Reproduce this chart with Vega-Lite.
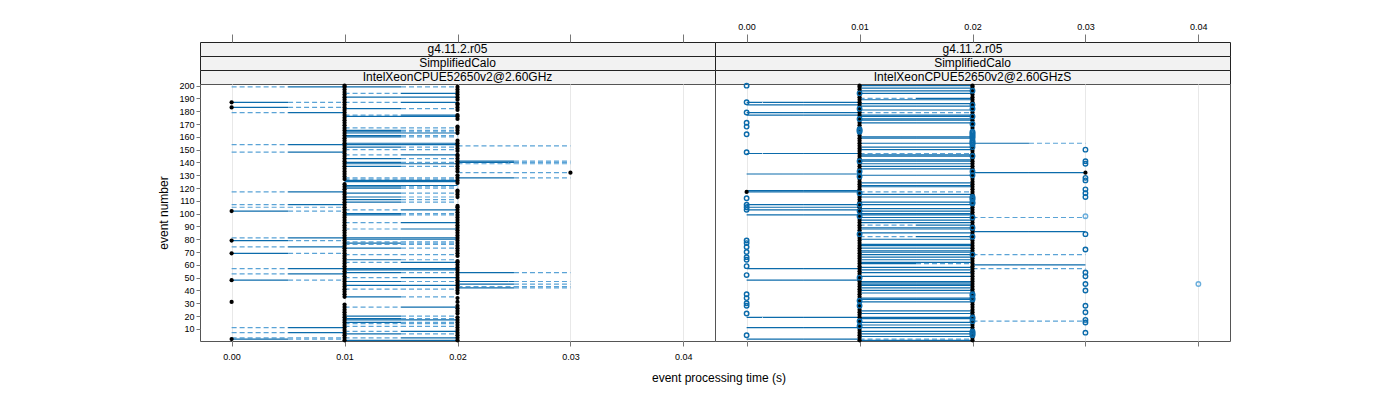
{
"$schema": "https://vega.github.io/schema/vega-lite/v6.json",
"background": "white",
"padding": {"left": 157, "top": 21, "right": 5, "bottom": 5},
"title": {"text": "event processing time (s)", "orient": "bottom", "anchor": "middle", "frame": "bounds", "fontSize": 12, "fontWeight": "normal", "font": "Liberation Sans", "color": "#000", "offset": 11, "dx": 25},
"datasets": {
"segL": [
{"e":199,"a":0,"m":0.005,"b":0.01,"f":"d","g":"s"},{"e":187,"a":0,"m":0.005,"b":0.01,"f":"s","g":"d"},{"e":183,"a":0,"m":0.005,"b":0.01,"f":"s","g":"d"},{"e":179,"a":0,"m":0.005,"b":0.01,"f":"d","g":"s"},{"e":154,"a":0,"m":0.005,"b":0.01,"f":"d","g":"s"},{"e":148,"a":0,"m":0.005,"b":0.01,"f":"d","g":"s"},{"e":117,"a":0,"m":0.005,"b":0.01,"f":"d","g":"s"},{"e":107,"a":0,"m":0.005,"b":0.01,"f":"d","g":"s"},{"e":105,"a":0,"m":0.005,"b":0.01,"f":"d","g":"d"},{"e":102,"a":0,"m":0.005,"b":0.01,"f":"s","g":"d"},{"e":81,"a":0,"m":0.005,"b":0.01,"f":"d","g":"s"},{"e":79,"a":0,"m":0.005,"b":0.01,"f":"s","g":"d"},{"e":74,"a":0,"m":0.005,"b":0.01,"f":"d","g":"s"},{"e":69,"a":0,"m":0.005,"b":0.01,"f":"s","g":"d"},{"e":57,"a":0,"m":0.005,"b":0.01,"f":"d","g":"s"},{"e":53,"a":0,"m":0.005,"b":0.01,"f":"d","g":"s"},{"e":48,"a":0,"m":0.005,"b":0.01,"f":"s","g":"d"},{"e":11,"a":0,"m":0.005,"b":0.01,"f":"d","g":"s"},{"e":7,"a":0,"m":0.005,"b":0.01,"f":"d","g":"s"},{"e":3,"a":0,"m":0.005,"b":0.01,"f":"d","g":"d"},{"e":2,"a":0,"m":0.005,"b":0.01,"f":"s","g":"d"},
{"e":199,"a":0.01,"m":0.015,"b":0.02,"f":"s","g":"d"},{"e":194,"a":0.01,"m":0.015,"b":0.02,"f":"d","g":"s"},{"e":191,"a":0.01,"m":0.015,"b":0.02,"f":"s","g":"s"},{"e":187,"a":0.01,"m":0.015,"b":0.02,"f":"d","g":"s"},{"e":182,"a":0.01,"m":0.015,"b":0.02,"f":"s","g":"d"},{"e":177,"a":0.01,"m":0.015,"b":0.02,"f":"d","g":"s"},{"e":176,"a":0.01,"m":0.015,"b":0.02,"f":"s","g":"s"},{"e":167,"a":0.01,"m":0.015,"b":0.02,"f":"d","g":"d"},{"e":165,"a":0.01,"m":0.015,"b":0.02,"f":"s","g":"d"},{"e":164,"a":0.01,"m":0.015,"b":0.02,"f":"s","g":"d"},{"e":163,"a":0.01,"m":0.015,"b":0.02,"f":"s","g":"s"},{"e":161,"a":0.01,"m":0.015,"b":0.02,"f":"s","g":"d"},{"e":160,"a":0.01,"m":0.015,"b":0.02,"f":"s","g":"d"},{"e":155,"a":0.01,"m":0.015,"b":0.02,"f":"s","g":"s"},{"e":154,"a":0.01,"m":0.015,"b":0.02,"f":"s","g":"s"},{"e":152,"a":0.01,"m":0.015,"b":0.02,"f":"s","g":"d"},{"e":150,"a":0.01,"m":0.015,"b":0.02,"f":"d","g":"d"},{"e":146,"a":0.01,"m":0.015,"b":0.02,"f":"d","g":"s"},{"e":143,"a":0.01,"m":0.015,"b":0.02,"f":"s","g":"d"},{"e":140,"a":0.01,"m":0.015,"b":0.02,"f":"s","g":"d"},{"e":139,"a":0.01,"m":0.015,"b":0.02,"f":"s","g":"s"},{"e":137,"a":0.01,"m":0.015,"b":0.02,"f":"s","g":"d"},{"e":128,"a":0.01,"m":0.015,"b":0.02,"f":"d","g":"d"},{"e":127,"a":0.01,"m":0.015,"b":0.02,"f":"d","g":"d"},{"e":126,"a":0.01,"m":0.015,"b":0.02,"f":"s","g":"s"},{"e":125,"a":0.01,"m":0.015,"b":0.02,"f":"s","g":"s"},{"e":122,"a":0.01,"m":0.015,"b":0.02,"f":"s","g":"s"},{"e":121,"a":0.01,"m":0.015,"b":0.02,"f":"s","g":"d"},{"e":120,"a":0.01,"m":0.015,"b":0.02,"f":"s","g":"d"},{"e":116,"a":0.01,"m":0.015,"b":0.02,"f":"s","g":"d"},{"e":113,"a":0.01,"m":0.015,"b":0.02,"f":"s","g":"d"},{"e":111,"a":0.01,"m":0.015,"b":0.02,"f":"s","g":"d"},{"e":109,"a":0.01,"m":0.015,"b":0.02,"f":"s","g":"d"},{"e":103,"a":0.01,"m":0.015,"b":0.02,"f":"d","g":"s"},{"e":100,"a":0.01,"m":0.015,"b":0.02,"f":"s","g":"d"},{"e":99,"a":0.01,"m":0.015,"b":0.02,"f":"s","g":"d"},{"e":93,"a":0.01,"m":0.015,"b":0.02,"f":"d","g":"s"},{"e":88,"a":0.01,"m":0.015,"b":0.02,"f":"d","g":"s"},{"e":81,"a":0.01,"m":0.015,"b":0.02,"f":"s","g":"s"},{"e":80,"a":0.01,"m":0.015,"b":0.02,"f":"s","g":"s"},{"e":78,"a":0.01,"m":0.015,"b":0.02,"f":"d","g":"d"},{"e":77,"a":0.01,"m":0.015,"b":0.02,"f":"s","g":"d"},{"e":76,"a":0.01,"m":0.015,"b":0.02,"f":"d","g":"d"},{"e":73,"a":0.01,"m":0.015,"b":0.02,"f":"s","g":"d"},{"e":68,"a":0.01,"m":0.015,"b":0.02,"f":"d","g":"d"},{"e":64,"a":0.01,"m":0.015,"b":0.02,"f":"s","g":"d"},{"e":62,"a":0.01,"m":0.015,"b":0.02,"f":"d","g":"s"},{"e":57,"a":0.01,"m":0.015,"b":0.02,"f":"s","g":"s"},{"e":56,"a":0.01,"m":0.015,"b":0.02,"f":"s","g":"s"},{"e":54,"a":0.01,"m":0.015,"b":0.02,"f":"s","g":"d"},{"e":50,"a":0.01,"m":0.015,"b":0.02,"f":"d","g":"s"},{"e":47,"a":0.01,"m":0.015,"b":0.02,"f":"s","g":"d"},{"e":44,"a":0.01,"m":0.015,"b":0.02,"f":"s","g":"s"},{"e":41,"a":0.01,"m":0.015,"b":0.02,"f":"d","g":"d"},{"e":35,"a":0.01,"m":0.015,"b":0.02,"f":"s","g":"d"},{"e":27,"a":0.01,"m":0.015,"b":0.02,"f":"d","g":"s"},{"e":20,"a":0.01,"m":0.015,"b":0.02,"f":"s","g":"d"},{"e":18,"a":0.01,"m":0.015,"b":0.02,"f":"s","g":"d"},{"e":17,"a":0.01,"m":0.015,"b":0.02,"f":"s","g":"s"},{"e":15,"a":0.01,"m":0.015,"b":0.02,"f":"s","g":"d"},{"e":14,"a":0.01,"m":0.015,"b":0.02,"f":"d","g":"d"},{"e":12,"a":0.01,"m":0.015,"b":0.02,"f":"d","g":"d"},{"e":8,"a":0.01,"m":0.015,"b":0.02,"f":"d","g":"s"},{"e":6,"a":0.01,"m":0.015,"b":0.02,"f":"s","g":"d"},{"e":3,"a":0.01,"m":0.015,"b":0.02,"f":"d","g":"s"},{"e":1,"a":0.01,"m":0.015,"b":0.02,"f":"s","g":"s"},
{"e":153,"a":0.02,"m":0.025,"b":0.03,"f":"d","g":"d"},{"e":141,"a":0.02,"m":0.025,"b":0.03,"f":"s","g":"d"},{"e":140,"a":0.02,"m":0.025,"b":0.03,"f":"s","g":"d"},{"e":139,"a":0.02,"m":0.025,"b":0.03,"f":"d","g":"d"},{"e":132,"a":0.02,"m":0.025,"b":0.03,"f":"d","g":"d"},{"e":128,"a":0.02,"m":0.025,"b":0.03,"f":"s","g":"d"},{"e":54,"a":0.02,"m":0.025,"b":0.03,"f":"s","g":"d"},{"e":47,"a":0.02,"m":0.025,"b":0.03,"f":"s","g":"d"},{"e":45,"a":0.02,"m":0.025,"b":0.03,"f":"s","g":"d"},{"e":43,"a":0.02,"m":0.025,"b":0.03,"f":"d","g":"d"},{"e":42,"a":0.02,"m":0.025,"b":0.03,"f":"s","g":"d"}
],
"segR": [
{"e":187,"a":0,"m":0.005,"b":0.01,"f":"s","g":"s"},{"e":185,"a":0,"m":0.005,"b":0.01,"f":"s","g":"s"},{"e":179,"a":0,"m":0.005,"b":0.01,"f":"s","g":"s"},{"e":177,"a":0,"m":0.005,"b":0.01,"f":"s","g":"s"},{"e":147,"a":0,"m":0.005,"b":0.01,"f":"s","g":"s"},{"e":131,"a":0,"m":0.005,"b":0.01,"f":"s","g":"s"},{"e":118,"a":0,"m":0.005,"b":0.01,"f":"s","g":"s"},{"e":117,"a":0,"m":0.005,"b":0.01,"f":"s","g":"s"},{"e":107,"a":0,"m":0.005,"b":0.01,"f":"s","g":"s"},{"e":105,"a":0,"m":0.005,"b":0.01,"f":"s","g":"s"},{"e":103,"a":0,"m":0.005,"b":0.01,"f":"s","g":"s"},{"e":99,"a":0,"m":0.005,"b":0.01,"f":"s","g":"s"},{"e":57,"a":0,"m":0.005,"b":0.01,"f":"s","g":"s"},{"e":48,"a":0,"m":0.005,"b":0.01,"f":"s","g":"s"},{"e":19,"a":0,"m":0.005,"b":0.01,"f":"s","g":"s"},{"e":11,"a":0,"m":0.005,"b":0.01,"f":"s","g":"s"},{"e":2,"a":0,"m":0.005,"b":0.01,"f":"s","g":"s"},
{"e":200,"a":0.01,"m":0.015,"b":0.02,"f":"s","g":"s"},{"e":198,"a":0.01,"m":0.015,"b":0.02,"f":"s","g":"s"},{"e":196,"a":0.01,"m":0.015,"b":0.02,"f":"s","g":"s"},{"e":194,"a":0.01,"m":0.015,"b":0.02,"f":"s","g":"s"},{"e":190,"a":0.01,"m":0.015,"b":0.02,"f":"d","g":"s"},{"e":189,"a":0.01,"m":0.015,"b":0.02,"f":"s","g":"s"},{"e":186,"a":0.01,"m":0.015,"b":0.02,"f":"s","g":"s"},{"e":184,"a":0.01,"m":0.015,"b":0.02,"f":"s","g":"s"},{"e":181,"a":0.01,"m":0.015,"b":0.02,"f":"s","g":"s"},{"e":179,"a":0.01,"m":0.015,"b":0.02,"f":"d","g":"d"},{"e":177,"a":0.01,"m":0.015,"b":0.02,"f":"s","g":"s"},{"e":176,"a":0.01,"m":0.015,"b":0.02,"f":"s","g":"s"},{"e":174,"a":0.01,"m":0.015,"b":0.02,"f":"s","g":"s"},{"e":173,"a":0.01,"m":0.015,"b":0.02,"f":"s","g":"s"},{"e":171,"a":0.01,"m":0.015,"b":0.02,"f":"s","g":"s"},{"e":160,"a":0.01,"m":0.015,"b":0.02,"f":"s","g":"s"},{"e":159,"a":0.01,"m":0.015,"b":0.02,"f":"s","g":"s"},{"e":155,"a":0.01,"m":0.015,"b":0.02,"f":"s","g":"s"},{"e":152,"a":0.01,"m":0.015,"b":0.02,"f":"s","g":"s"},{"e":150,"a":0.01,"m":0.015,"b":0.02,"f":"s","g":"s"},{"e":147,"a":0.01,"m":0.015,"b":0.02,"f":"d","g":"d"},{"e":146,"a":0.01,"m":0.015,"b":0.02,"f":"s","g":"s"},{"e":145,"a":0.01,"m":0.015,"b":0.02,"f":"s","g":"s"},{"e":142,"a":0.01,"m":0.015,"b":0.02,"f":"s","g":"s"},{"e":141,"a":0.01,"m":0.015,"b":0.02,"f":"s","g":"s"},{"e":139,"a":0.01,"m":0.015,"b":0.02,"f":"s","g":"s"},{"e":137,"a":0.01,"m":0.015,"b":0.02,"f":"s","g":"s"},{"e":135,"a":0.01,"m":0.015,"b":0.02,"f":"s","g":"s"},{"e":130,"a":0.01,"m":0.015,"b":0.02,"f":"s","g":"s"},{"e":124,"a":0.01,"m":0.015,"b":0.02,"f":"s","g":"s"},{"e":122,"a":0.01,"m":0.015,"b":0.02,"f":"s","g":"s"},{"e":121,"a":0.01,"m":0.015,"b":0.02,"f":"s","g":"s"},{"e":117,"a":0.01,"m":0.015,"b":0.02,"f":"d","g":"d"},{"e":115,"a":0.01,"m":0.015,"b":0.02,"f":"s","g":"s"},{"e":113,"a":0.01,"m":0.015,"b":0.02,"f":"s","g":"s"},{"e":109,"a":0.01,"m":0.015,"b":0.02,"f":"s","g":"s"},{"e":107,"a":0.01,"m":0.015,"b":0.02,"f":"s","g":"s"},{"e":104,"a":0.01,"m":0.015,"b":0.02,"f":"s","g":"s"},{"e":102,"a":0.01,"m":0.015,"b":0.02,"f":"s","g":"s"},{"e":100,"a":0.01,"m":0.015,"b":0.02,"f":"s","g":"s"},{"e":99,"a":0.01,"m":0.015,"b":0.02,"f":"s","g":"s"},{"e":97,"a":0.01,"m":0.015,"b":0.02,"f":"s","g":"s"},{"e":95,"a":0.01,"m":0.015,"b":0.02,"f":"s","g":"s"},{"e":93,"a":0.01,"m":0.015,"b":0.02,"f":"s","g":"s"},{"e":91,"a":0.01,"m":0.015,"b":0.02,"f":"d","g":"s"},{"e":89,"a":0.01,"m":0.015,"b":0.02,"f":"s","g":"s"},{"e":88,"a":0.01,"m":0.015,"b":0.02,"f":"s","g":"s"},{"e":85,"a":0.01,"m":0.015,"b":0.02,"f":"s","g":"s"},{"e":82,"a":0.01,"m":0.015,"b":0.02,"f":"d","g":"s"},{"e":80,"a":0.01,"m":0.015,"b":0.02,"f":"s","g":"s"},{"e":76,"a":0.01,"m":0.015,"b":0.02,"f":"s","g":"s"},{"e":75,"a":0.01,"m":0.015,"b":0.02,"f":"s","g":"s"},{"e":73,"a":0.01,"m":0.015,"b":0.02,"f":"s","g":"s"},{"e":71,"a":0.01,"m":0.015,"b":0.02,"f":"s","g":"s"},{"e":70,"a":0.01,"m":0.015,"b":0.02,"f":"s","g":"s"},{"e":68,"a":0.01,"m":0.015,"b":0.02,"f":"s","g":"s"},{"e":66,"a":0.01,"m":0.015,"b":0.02,"f":"s","g":"s"},{"e":64,"a":0.01,"m":0.015,"b":0.02,"f":"s","g":"s"},{"e":62,"a":0.01,"m":0.015,"b":0.02,"f":"s","g":"s"},{"e":61,"a":0.01,"m":0.015,"b":0.02,"f":"s","g":"d"},{"e":58,"a":0.01,"m":0.015,"b":0.02,"f":"s","g":"s"},{"e":56,"a":0.01,"m":0.015,"b":0.02,"f":"s","g":"s"},{"e":54,"a":0.01,"m":0.015,"b":0.02,"f":"s","g":"s"},{"e":51,"a":0.01,"m":0.015,"b":0.02,"f":"s","g":"s"},{"e":47,"a":0.01,"m":0.015,"b":0.02,"f":"s","g":"s"},{"e":46,"a":0.01,"m":0.015,"b":0.02,"f":"s","g":"s"},{"e":45,"a":0.01,"m":0.015,"b":0.02,"f":"s","g":"s"},{"e":44,"a":0.01,"m":0.015,"b":0.02,"f":"s","g":"s"},{"e":42,"a":0.01,"m":0.015,"b":0.02,"f":"s","g":"s"},{"e":40,"a":0.01,"m":0.015,"b":0.02,"f":"s","g":"s"},{"e":38,"a":0.01,"m":0.015,"b":0.02,"f":"s","g":"s"},{"e":34,"a":0.01,"m":0.015,"b":0.02,"f":"s","g":"s"},{"e":33,"a":0.01,"m":0.015,"b":0.02,"f":"s","g":"s"},{"e":31,"a":0.01,"m":0.015,"b":0.02,"f":"s","g":"s"},{"e":24,"a":0.01,"m":0.015,"b":0.02,"f":"s","g":"s"},{"e":22,"a":0.01,"m":0.015,"b":0.02,"f":"s","g":"s"},{"e":19,"a":0.01,"m":0.015,"b":0.02,"f":"s","g":"s"},{"e":18,"a":0.01,"m":0.015,"b":0.02,"f":"s","g":"s"},{"e":15,"a":0.01,"m":0.015,"b":0.02,"f":"s","g":"s"},{"e":13,"a":0.01,"m":0.015,"b":0.02,"f":"s","g":"s"},{"e":11,"a":0.01,"m":0.015,"b":0.02,"f":"s","g":"s"},{"e":8,"a":0.01,"m":0.015,"b":0.02,"f":"s","g":"s"},{"e":6,"a":0.01,"m":0.015,"b":0.02,"f":"s","g":"s"},{"e":4,"a":0.01,"m":0.015,"b":0.02,"f":"s","g":"s"},{"e":2,"a":0.01,"m":0.015,"b":0.02,"f":"d","g":"d"},{"e":1,"a":0.01,"m":0.015,"b":0.02,"f":"s","g":"s"},
{"e":155,"a":0.02,"m":0.025,"b":0.03,"f":"s","g":"d"},{"e":132,"a":0.02,"m":0.025,"b":0.03,"f":"s","g":"s"},{"e":97,"a":0.02,"m":0.025,"b":0.03,"f":"d","g":"d"},{"e":86,"a":0.02,"m":0.025,"b":0.03,"f":"s","g":"s"},{"e":68,"a":0.02,"m":0.025,"b":0.03,"f":"d","g":"d"},{"e":60,"a":0.02,"m":0.025,"b":0.03,"f":"s","g":"s"},{"e":57,"a":0.02,"m":0.025,"b":0.03,"f":"d","g":"d"},{"e":16,"a":0.02,"m":0.025,"b":0.03,"f":"d","g":"d"}
],
"ptL": [
{"e":1,"t":0.01},{"e":3,"t":0.01},{"e":5,"t":0.01},{"e":7,"t":0.01},{"e":9,"t":0.01},{"e":11,"t":0.01},{"e":13,"t":0.01},{"e":15,"t":0.01},{"e":17,"t":0.01},{"e":19,"t":0.01},{"e":21,"t":0.01},{"e":23,"t":0.01},{"e":25,"t":0.01},{"e":27,"t":0.01},{"e":29,"t":0.01},{"e":35,"t":0.01},{"e":37,"t":0.01},{"e":39,"t":0.01},{"e":41,"t":0.01},{"e":43,"t":0.01},{"e":45,"t":0.01},{"e":47,"t":0.01},{"e":49,"t":0.01},{"e":51,"t":0.01},{"e":53,"t":0.01},{"e":55,"t":0.01},{"e":57,"t":0.01},{"e":59,"t":0.01},{"e":61,"t":0.01},{"e":63,"t":0.01},{"e":65,"t":0.01},{"e":67,"t":0.01},{"e":69,"t":0.01},{"e":71,"t":0.01},{"e":73,"t":0.01},{"e":75,"t":0.01},{"e":77,"t":0.01},{"e":79,"t":0.01},{"e":81,"t":0.01},{"e":83,"t":0.01},{"e":85,"t":0.01},{"e":87,"t":0.01},{"e":89,"t":0.01},{"e":91,"t":0.01},{"e":93,"t":0.01},{"e":95,"t":0.01},{"e":97,"t":0.01},{"e":99,"t":0.01},{"e":101,"t":0.01},{"e":103,"t":0.01},{"e":105,"t":0.01},{"e":107,"t":0.01},{"e":109,"t":0.01},{"e":111,"t":0.01},{"e":113,"t":0.01},{"e":115,"t":0.01},{"e":117,"t":0.01},{"e":119,"t":0.01},{"e":121,"t":0.01},{"e":123,"t":0.01},{"e":127,"t":0.01},{"e":129,"t":0.01},{"e":131,"t":0.01},{"e":133,"t":0.01},{"e":135,"t":0.01},{"e":137,"t":0.01},{"e":139,"t":0.01},{"e":141,"t":0.01},{"e":143,"t":0.01},{"e":145,"t":0.01},{"e":147,"t":0.01},{"e":149,"t":0.01},{"e":151,"t":0.01},{"e":153,"t":0.01},{"e":155,"t":0.01},{"e":157,"t":0.01},{"e":159,"t":0.01},{"e":161,"t":0.01},{"e":163,"t":0.01},{"e":165,"t":0.01},{"e":167,"t":0.01},{"e":169,"t":0.01},{"e":171,"t":0.01},{"e":173,"t":0.01},{"e":175,"t":0.01},{"e":177,"t":0.01},{"e":179,"t":0.01},{"e":181,"t":0.01},{"e":183,"t":0.01},{"e":185,"t":0.01},{"e":187,"t":0.01},{"e":189,"t":0.01},{"e":191,"t":0.01},{"e":193,"t":0.01},{"e":195,"t":0.01},{"e":197,"t":0.01},{"e":199,"t":0.01},{"e":200,"t":0.01},
{"e":1,"t":0.02},{"e":3,"t":0.02},{"e":5,"t":0.02},{"e":7,"t":0.02},{"e":9,"t":0.02},{"e":11,"t":0.02},{"e":13,"t":0.02},{"e":15,"t":0.02},{"e":17,"t":0.02},{"e":19,"t":0.02},{"e":22,"t":0.02},{"e":24,"t":0.02},{"e":26,"t":0.02},{"e":28,"t":0.02},{"e":31,"t":0.02},{"e":34,"t":0.02},{"e":38,"t":0.02},{"e":40,"t":0.02},{"e":42,"t":0.02},{"e":44,"t":0.02},{"e":46,"t":0.02},{"e":48,"t":0.02},{"e":50,"t":0.02},{"e":52,"t":0.02},{"e":54,"t":0.02},{"e":56,"t":0.02},{"e":58,"t":0.02},{"e":60,"t":0.02},{"e":62,"t":0.02},{"e":63,"t":0.02},{"e":67,"t":0.02},{"e":69,"t":0.02},{"e":71,"t":0.02},{"e":73,"t":0.02},{"e":75,"t":0.02},{"e":77,"t":0.02},{"e":79,"t":0.02},{"e":81,"t":0.02},{"e":83,"t":0.02},{"e":85,"t":0.02},{"e":87,"t":0.02},{"e":89,"t":0.02},{"e":91,"t":0.02},{"e":93,"t":0.02},{"e":95,"t":0.02},{"e":97,"t":0.02},{"e":99,"t":0.02},{"e":101,"t":0.02},{"e":103,"t":0.02},{"e":105,"t":0.02},{"e":106,"t":0.02},{"e":113,"t":0.02},{"e":115,"t":0.02},{"e":117,"t":0.02},{"e":118,"t":0.02},{"e":124,"t":0.02},{"e":126,"t":0.02},{"e":128,"t":0.02},{"e":130,"t":0.02},{"e":133,"t":0.02},{"e":135,"t":0.02},{"e":137,"t":0.02},{"e":139,"t":0.02},{"e":141,"t":0.02},{"e":143,"t":0.02},{"e":145,"t":0.02},{"e":146,"t":0.02},{"e":149,"t":0.02},{"e":151,"t":0.02},{"e":153,"t":0.02},{"e":155,"t":0.02},{"e":157,"t":0.02},{"e":163,"t":0.02},{"e":165,"t":0.02},{"e":167,"t":0.02},{"e":168,"t":0.02},{"e":174,"t":0.02},{"e":176,"t":0.02},{"e":177,"t":0.02},{"e":181,"t":0.02},{"e":183,"t":0.02},{"e":185,"t":0.02},{"e":186,"t":0.02},{"e":189,"t":0.02},{"e":191,"t":0.02},{"e":193,"t":0.02},{"e":195,"t":0.02},{"e":197,"t":0.02},{"e":199,"t":0.02},
{"e":187,"t":0},{"e":183,"t":0},{"e":102,"t":0},{"e":79,"t":0},{"e":69,"t":0},{"e":48,"t":0},{"e":31,"t":0},{"e":2,"t":0},{"e":132,"t":0.03}
],
"ptRk": [
{"e":1,"t":0.01},{"e":3,"t":0.01},{"e":5,"t":0.01},{"e":7,"t":0.01},{"e":9,"t":0.01},{"e":11,"t":0.01},{"e":13,"t":0.01},{"e":15,"t":0.01},{"e":17,"t":0.01},{"e":19,"t":0.01},{"e":21,"t":0.01},{"e":23,"t":0.01},{"e":25,"t":0.01},{"e":27,"t":0.01},{"e":29,"t":0.01},{"e":31,"t":0.01},{"e":33,"t":0.01},{"e":35,"t":0.01},{"e":37,"t":0.01},{"e":39,"t":0.01},{"e":41,"t":0.01},{"e":43,"t":0.01},{"e":45,"t":0.01},{"e":47,"t":0.01},{"e":49,"t":0.01},{"e":51,"t":0.01},{"e":53,"t":0.01},{"e":55,"t":0.01},{"e":57,"t":0.01},{"e":59,"t":0.01},{"e":61,"t":0.01},{"e":63,"t":0.01},{"e":65,"t":0.01},{"e":67,"t":0.01},{"e":69,"t":0.01},{"e":71,"t":0.01},{"e":73,"t":0.01},{"e":75,"t":0.01},{"e":77,"t":0.01},{"e":79,"t":0.01},{"e":81,"t":0.01},{"e":83,"t":0.01},{"e":85,"t":0.01},{"e":87,"t":0.01},{"e":89,"t":0.01},{"e":91,"t":0.01},{"e":93,"t":0.01},{"e":95,"t":0.01},{"e":97,"t":0.01},{"e":99,"t":0.01},{"e":101,"t":0.01},{"e":103,"t":0.01},{"e":105,"t":0.01},{"e":107,"t":0.01},{"e":109,"t":0.01},{"e":111,"t":0.01},{"e":113,"t":0.01},{"e":115,"t":0.01},{"e":117,"t":0.01},{"e":119,"t":0.01},{"e":121,"t":0.01},{"e":123,"t":0.01},{"e":125,"t":0.01},{"e":127,"t":0.01},{"e":129,"t":0.01},{"e":131,"t":0.01},{"e":133,"t":0.01},{"e":135,"t":0.01},{"e":137,"t":0.01},{"e":139,"t":0.01},{"e":141,"t":0.01},{"e":143,"t":0.01},{"e":145,"t":0.01},{"e":147,"t":0.01},{"e":149,"t":0.01},{"e":151,"t":0.01},{"e":153,"t":0.01},{"e":155,"t":0.01},{"e":157,"t":0.01},{"e":159,"t":0.01},{"e":161,"t":0.01},{"e":163,"t":0.01},{"e":165,"t":0.01},{"e":167,"t":0.01},{"e":169,"t":0.01},{"e":171,"t":0.01},{"e":173,"t":0.01},{"e":175,"t":0.01},{"e":177,"t":0.01},{"e":179,"t":0.01},{"e":181,"t":0.01},{"e":183,"t":0.01},{"e":185,"t":0.01},{"e":187,"t":0.01},{"e":189,"t":0.01},{"e":191,"t":0.01},{"e":193,"t":0.01},{"e":195,"t":0.01},{"e":197,"t":0.01},{"e":199,"t":0.01},{"e":200,"t":0.01},
{"e":1,"t":0.02},{"e":3,"t":0.02},{"e":5,"t":0.02},{"e":7,"t":0.02},{"e":9,"t":0.02},{"e":11,"t":0.02},{"e":13,"t":0.02},{"e":15,"t":0.02},{"e":17,"t":0.02},{"e":19,"t":0.02},{"e":21,"t":0.02},{"e":23,"t":0.02},{"e":25,"t":0.02},{"e":27,"t":0.02},{"e":29,"t":0.02},{"e":31,"t":0.02},{"e":33,"t":0.02},{"e":35,"t":0.02},{"e":37,"t":0.02},{"e":39,"t":0.02},{"e":41,"t":0.02},{"e":43,"t":0.02},{"e":45,"t":0.02},{"e":47,"t":0.02},{"e":49,"t":0.02},{"e":51,"t":0.02},{"e":53,"t":0.02},{"e":55,"t":0.02},{"e":57,"t":0.02},{"e":59,"t":0.02},{"e":61,"t":0.02},{"e":63,"t":0.02},{"e":65,"t":0.02},{"e":67,"t":0.02},{"e":69,"t":0.02},{"e":71,"t":0.02},{"e":73,"t":0.02},{"e":75,"t":0.02},{"e":77,"t":0.02},{"e":79,"t":0.02},{"e":81,"t":0.02},{"e":83,"t":0.02},{"e":85,"t":0.02},{"e":87,"t":0.02},{"e":89,"t":0.02},{"e":91,"t":0.02},{"e":93,"t":0.02},{"e":95,"t":0.02},{"e":97,"t":0.02},{"e":99,"t":0.02},{"e":101,"t":0.02},{"e":103,"t":0.02},{"e":105,"t":0.02},{"e":107,"t":0.02},{"e":109,"t":0.02},{"e":111,"t":0.02},{"e":113,"t":0.02},{"e":115,"t":0.02},{"e":117,"t":0.02},{"e":119,"t":0.02},{"e":121,"t":0.02},{"e":123,"t":0.02},{"e":125,"t":0.02},{"e":127,"t":0.02},{"e":129,"t":0.02},{"e":131,"t":0.02},{"e":133,"t":0.02},{"e":135,"t":0.02},{"e":137,"t":0.02},{"e":139,"t":0.02},{"e":141,"t":0.02},{"e":143,"t":0.02},{"e":145,"t":0.02},{"e":147,"t":0.02},{"e":149,"t":0.02},{"e":151,"t":0.02},{"e":167,"t":0.02},{"e":169,"t":0.02},{"e":171,"t":0.02},{"e":173,"t":0.02},{"e":175,"t":0.02},{"e":177,"t":0.02},{"e":179,"t":0.02},{"e":181,"t":0.02},{"e":183,"t":0.02},{"e":185,"t":0.02},{"e":187,"t":0.02},{"e":189,"t":0.02},{"e":191,"t":0.02},{"e":193,"t":0.02},{"e":195,"t":0.02},{"e":197,"t":0.02},{"e":199,"t":0.02},{"e":200,"t":0.02},
{"e":117,"t":0},{"e":132,"t":0.03}
],
"ptRb": [
{"e":200,"t":0},{"e":187,"t":0},{"e":179,"t":0},{"e":171,"t":0},{"e":168,"t":0},{"e":162,"t":0},{"e":148,"t":0},{"e":112,"t":0},{"e":107,"t":0},{"e":105,"t":0},{"e":103,"t":0},{"e":79,"t":0},{"e":77,"t":0},{"e":74,"t":0},{"e":70,"t":0},{"e":66,"t":0},{"e":64,"t":0},{"e":59,"t":0},{"e":52,"t":0},{"e":37,"t":0},{"e":34,"t":0},{"e":30,"t":0},{"e":28,"t":0},{"e":22,"t":0},{"e":5,"t":0},
{"e":194,"t":0.01},{"e":182,"t":0.01},{"e":174,"t":0.01},{"e":166,"t":0.01},{"e":165,"t":0.01},{"e":164,"t":0.01},{"e":141,"t":0.01},{"e":133,"t":0.01},{"e":129,"t":0.01},{"e":116,"t":0.01},{"e":107,"t":0.01},{"e":102,"t":0.01},{"e":98,"t":0.01},{"e":84,"t":0.01},{"e":50,"t":0.01},{"e":32,"t":0.01},{"e":28,"t":0.01},{"e":16,"t":0.01},{"e":12,"t":0.01},
{"e":196,"t":0.02},{"e":185,"t":0.02},{"e":182,"t":0.02},{"e":176,"t":0.02},{"e":170,"t":0.02},{"e":164,"t":0.02},{"e":163,"t":0.02},{"e":162,"t":0.02},{"e":161,"t":0.02},{"e":160,"t":0.02},{"e":159,"t":0.02},{"e":157,"t":0.02},{"e":156,"t":0.02},{"e":155,"t":0.02},{"e":154,"t":0.02},{"e":152,"t":0.02},{"e":145,"t":0.02},{"e":133,"t":0.02},{"e":130,"t":0.02},{"e":113,"t":0.02},{"e":112,"t":0.02},{"e":111,"t":0.02},{"e":109,"t":0.02},{"e":108,"t":0.02},{"e":97,"t":0.02},{"e":89,"t":0.02},{"e":82,"t":0.02},{"e":68,"t":0.02},{"e":37,"t":0.02},{"e":36,"t":0.02},{"e":34,"t":0.02},{"e":33,"t":0.02},{"e":19,"t":0.02},{"e":18,"t":0.02},{"e":16,"t":0.02},{"e":8,"t":0.02},{"e":7,"t":0.02},{"e":6,"t":0.02},{"e":5,"t":0.02},
{"e":150,"t":0.03},{"e":141,"t":0.03},{"e":139,"t":0.03},{"e":128,"t":0.03},{"e":126,"t":0.03},{"e":119,"t":0.03},{"e":116,"t":0.03},{"e":113,"t":0.03},{"e":98,"t":0.03,"l":1},{"e":84,"t":0.03},{"e":72,"t":0.03},{"e":54,"t":0.03},{"e":51,"t":0.03},{"e":45,"t":0.03},{"e":40,"t":0.03},{"e":28,"t":0.03},{"e":23,"t":0.03},{"e":17,"t":0.03},{"e":15,"t":0.03},{"e":7,"t":0.03},
{"e":45,"t":0.04,"l":1}
]
},
"columns": 2,
"spacing": 0,
"bounds": "flush",
"concat": [
{"width": 515, "height": 14, "view": {"fill": "#f2f2f2", "stroke": "#222"}, "data": {"values": [{"lab": "g4.11.2.r05"}]}, "mark": {"type": "text", "fontSize": 12, "font": "Liberation Sans", "color": "#000", "baseline": "middle"}, "encoding": {"text": {"field": "lab"}}},
{"width": 515, "height": 14, "view": {"fill": "#f2f2f2", "stroke": "#222"}, "data": {"values": [{"lab": "g4.11.2.r05"}]}, "mark": {"type": "text", "fontSize": 12, "font": "Liberation Sans", "color": "#000", "baseline": "middle"}, "encoding": {"text": {"field": "lab"}}},
{"width": 515, "height": 14, "view": {"fill": "#f2f2f2", "stroke": "#222"}, "data": {"values": [{"lab": "SimplifiedCalo"}]}, "mark": {"type": "text", "fontSize": 12, "font": "Liberation Sans", "color": "#000", "baseline": "middle"}, "encoding": {"text": {"field": "lab"}}},
{"width": 515, "height": 14, "view": {"fill": "#f2f2f2", "stroke": "#222"}, "data": {"values": [{"lab": "SimplifiedCalo"}]}, "mark": {"type": "text", "fontSize": 12, "font": "Liberation Sans", "color": "#000", "baseline": "middle"}, "encoding": {"text": {"field": "lab"}}},
{"width": 515, "height": 14, "view": {"fill": "#f2f2f2", "stroke": "#222"}, "data": {"values": [{"lab": "IntelXeonCPUE52650v2@2.60GHz"}]}, "mark": {"type": "text", "fontSize": 12, "font": "Liberation Sans", "color": "#000", "baseline": "middle"}, "encoding": {"text": {"field": "lab"}}},
{"width": 515, "height": 14, "view": {"fill": "#f2f2f2", "stroke": "#222"}, "data": {"values": [{"lab": "IntelXeonCPUE52650v2@2.60GHzS"}]}, "mark": {"type": "text", "fontSize": 12, "font": "Liberation Sans", "color": "#000", "baseline": "middle"}, "encoding": {"text": {"field": "lab"}}},
{"width": 515, "height": 257, "view": {"fill": "white", "stroke": "#555"},
 "resolve": {"axis": {"x": "independent"}},
 "layer": [
  {"data": {"name": "segL"}, "mark": {"type": "rule", "strokeWidth": 1.2},
   "encoding": {
    "x": {"field": "a", "type": "quantitative", "scale": {"domain": [-0.0028, 0.0428], "nice": false, "zero": false}, "axis": {"orient": "bottom", "values": [0, 0.01, 0.02, 0.03, 0.04], "format": ".2f", "title": null, "grid": true, "gridColor": "#e8e8e8", "tickSize": 5, "labelPadding": 6}},
    "x2": {"field": "m"},
    "y": {"field": "e", "type": "quantitative", "scale": {"domain": [0.5, 201.3], "nice": false, "zero": false}, "axis": {"values": [10,20,30,40,50,60,70,80,90,100,110,120,130,140,150,160,170,180,190,200], "title": "event number", "grid": false, "tickSize": 4, "labelPadding": 2, "titlePadding": 8}},
    "color": {"field": "f", "type": "nominal", "scale": {"domain": ["s", "d"], "range": ["#0b6bab", "#5aa3d6"]}, "legend": null},
    "strokeDash": {"field": "f", "type": "nominal", "scale": {"domain": ["s", "d"], "range": [[1, 0], [5, 3]]}, "legend": null}
   }},
  {"data": {"name": "segL"}, "mark": {"type": "rule", "strokeWidth": 1.2},
   "encoding": {
    "x": {"field": "m", "type": "quantitative", "scale": {"domain": [-0.0028, 0.0428], "nice": false, "zero": false}, "axis": {"orient": "top", "offset": 42, "values": [0, 0.01, 0.02, 0.03, 0.04], "labels": false, "title": null, "grid": false, "tickSize": 8}},
    "x2": {"field": "b"},
    "y": {"field": "e", "type": "quantitative", "scale": {"domain": [0.5, 201.3], "nice": false, "zero": false}, "axis": {"values": [10,20,30,40,50,60,70,80,90,100,110,120,130,140,150,160,170,180,190,200], "title": "event number", "grid": false, "tickSize": 4, "labelPadding": 2, "titlePadding": 8}},
    "color": {"field": "g", "type": "nominal", "scale": {"domain": ["s", "d"], "range": ["#0b6bab", "#5aa3d6"]}, "legend": null},
    "strokeDash": {"field": "g", "type": "nominal", "scale": {"domain": ["s", "d"], "range": [[1, 0], [5, 3]]}, "legend": null}
   }},
  {"data": {"name": "ptL"}, "mark": {"type": "point", "filled": true, "color": "#000", "size": 18, "opacity": 1},
   "encoding": {
    "x": {"field": "t", "type": "quantitative", "scale": {"domain": [-0.0028, 0.0428], "nice": false, "zero": false}, "axis": null},
    "y": {"field": "e", "type": "quantitative", "scale": {"domain": [0.5, 201.3], "nice": false, "zero": false}, "axis": {"values": [10,20,30,40,50,60,70,80,90,100,110,120,130,140,150,160,170,180,190,200], "title": "event number", "grid": false, "tickSize": 4, "labelPadding": 2, "titlePadding": 8}}
   }}
 ]},
{"width": 515, "height": 257, "view": {"fill": "white", "stroke": "#555"},
 "resolve": {"axis": {"x": "independent"}},
 "layer": [
  {"data": {"name": "segR"}, "mark": {"type": "rule", "strokeWidth": 1.2},
   "encoding": {
    "x": {"field": "a", "type": "quantitative", "scale": {"domain": [-0.0028, 0.0428], "nice": false, "zero": false}, "axis": {"orient": "bottom", "values": [0, 0.01, 0.02, 0.03, 0.04], "labels": false, "title": null, "grid": true, "gridColor": "#e8e8e8", "tickSize": 5}},
    "x2": {"field": "m"},
    "y": {"field": "e", "type": "quantitative", "scale": {"domain": [0.5, 201.3], "nice": false, "zero": false}, "axis": null},
    "color": {"field": "f", "type": "nominal", "scale": {"domain": ["s", "d"], "range": ["#0b6bab", "#5aa3d6"]}, "legend": null},
    "strokeDash": {"field": "f", "type": "nominal", "scale": {"domain": ["s", "d"], "range": [[1, 0], [5, 3]]}, "legend": null}
   }},
  {"data": {"name": "segR"}, "mark": {"type": "rule", "strokeWidth": 1.2},
   "encoding": {
    "x": {"field": "m", "type": "quantitative", "scale": {"domain": [-0.0028, 0.0428], "nice": false, "zero": false}, "axis": {"orient": "top", "offset": 42, "values": [0, 0.01, 0.02, 0.03, 0.04], "format": ".2f", "title": null, "grid": false, "tickSize": 8, "labelPadding": 3}},
    "x2": {"field": "b"},
    "y": {"field": "e", "type": "quantitative", "scale": {"domain": [0.5, 201.3], "nice": false, "zero": false}, "axis": null},
    "color": {"field": "g", "type": "nominal", "scale": {"domain": ["s", "d"], "range": ["#0b6bab", "#5aa3d6"]}, "legend": null},
    "strokeDash": {"field": "g", "type": "nominal", "scale": {"domain": ["s", "d"], "range": [[1, 0], [5, 3]]}, "legend": null}
   }},
  {"data": {"name": "ptRk"}, "mark": {"type": "point", "filled": true, "color": "#000", "size": 18, "opacity": 1},
   "encoding": {
    "x": {"field": "t", "type": "quantitative", "scale": {"domain": [-0.0028, 0.0428], "nice": false, "zero": false}, "axis": null},
    "y": {"field": "e", "type": "quantitative", "scale": {"domain": [0.5, 201.3], "nice": false, "zero": false}, "axis": null}
   }},
  {"data": {"name": "ptRb"}, "mark": {"type": "point", "filled": false, "size": 20, "strokeWidth": 1.4, "opacity": 1},
   "encoding": {
    "x": {"field": "t", "type": "quantitative", "scale": {"domain": [-0.0028, 0.0428], "nice": false, "zero": false}, "axis": null},
    "y": {"field": "e", "type": "quantitative", "scale": {"domain": [0.5, 201.3], "nice": false, "zero": false}, "axis": null},
    "color": {"condition": {"test": "datum.l == 1", "value": "#6aaedc"}, "value": "#0b6bab"}
   }}
 ]}
],
"config": {
 "font": "Liberation Sans",
 "view": {"stroke": null},
 "axis": {"labelFont": "Liberation Sans", "labelFontSize": 9, "labelColor": "#000", "tickColor": "#777", "domain": false, "titleFont": "Liberation Sans", "titleFontWeight": "normal", "titleFontSize": 12, "titleColor": "#000"}
}
}
